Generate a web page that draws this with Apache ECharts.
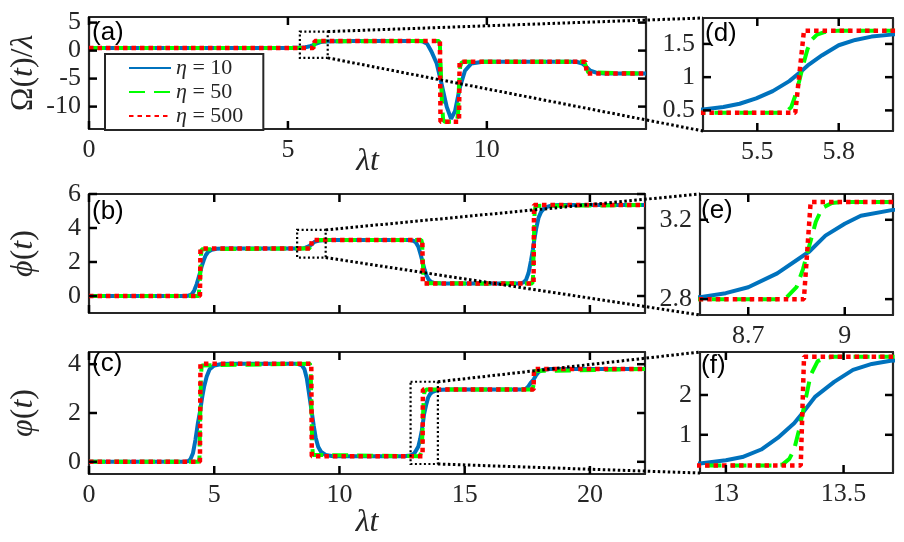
<!DOCTYPE html>
<html>
<head>
<meta charset="utf-8">
<script src="https://cdn.jsdelivr.net/npm/echarts@6/dist/echarts.min.js"></script>
<style>
html, body { margin: 0; background: #fff; }
#main { width: 904px; height: 542px; }
</style>
</head>
<body>
<div id="main"></div>
<script>
// curve values, [lambda*t, value]
var omega10 = [[0,0.47],[4.9,0.48],[5.1,0.49],[5.22,0.5],[5.30,0.515],[5.375,0.55],[5.435,0.60],[5.496,0.68],[5.557,0.79],[5.618,0.94],[5.654,1.06],[5.69,1.19],[5.739,1.33],[5.80,1.48],[5.861,1.56],[5.921,1.61],[5.994,1.64],[6.1,1.67],[6.3,1.69],[6.6,1.70],
  [8.3,1.70],[8.4,1.6],[8.5,1.2],[8.61,-0.2],[8.74,-2.3],[8.86,-5.9],[8.99,-10],[9.1,-12.2],[9.2,-10.8],[9.32,-6.6],[9.45,-3.6],[9.61,-2.3],[9.9,-2.0],
  [12.25,-2.0],[12.4,-2.3],[12.5,-2.9],[12.6,-3.6],[12.75,-3.95],[12.95,-4.1],[14,-4.1]];
var omega50 = [[0,0.465],[5.59,0.465],[5.61,0.49],[5.625,0.55],[5.64,0.72],[5.655,0.95],[5.67,1.2],[5.685,1.42],[5.70,1.56],[5.72,1.64],[5.75,1.68],[5.8,1.70],
  [8.8,1.70],[8.82,1.0],[8.84,-3],[8.87,-9],[8.9,-12.3],[8.94,-12.7],[9.25,-12.7],[9.28,-11],[9.3,-6],[9.33,-2.8],[9.37,-2.1],[9.45,-2.0],
  [12.45,-2.0],[12.5,-3.0],[12.55,-3.9],[12.6,-4.1],[14,-4.1]];
var omega500 = [[0,0.465],[5.64,0.465],[5.672,1.70],[8.82,1.70],[8.835,-12.7],[9.3,-12.7],[9.315,-2.0],[12.48,-2.0],[12.51,-4.1],[14,-4.1]];

var phi10 = [[0,0],[3.9,0],[4.0,0.03],[4.1,0.1],[4.2,0.32],[4.3,0.7],[4.38,1.1],[4.44,1.4],[4.5,1.75],[4.58,2.1],[4.66,2.4],[4.76,2.6],[4.9,2.72],[5.1,2.78],[5.4,2.8],
  [8.3,2.8],[8.55,2.81],[8.63,2.83],[8.7,2.86],[8.79,2.93],[8.89,3.04],[8.94,3.12],[9.0,3.18],[9.05,3.22],[9.15,3.25],[9.35,3.28],[9.6,3.29],
  [12.8,3.29],[12.95,3.25],[13.05,3.15],[13.15,2.9],[13.25,2.4],[13.32,2.0],[13.4,1.55],[13.48,1.2],[13.56,0.97],[13.66,0.83],[13.8,0.76],[14.1,0.73],
  [17.2,0.73],[17.35,0.8],[17.45,0.95],[17.55,1.35],[17.65,2.1],[17.72,2.7],[17.78,3.3],[17.86,4.0],[17.95,4.6],[18.05,4.95],[18.2,5.2],[18.45,5.32],[18.8,5.35],[22.2,5.35]];
var phi50 = [[0,0],[4.38,0],[4.41,0.1],[4.44,1.2],[4.47,2.4],[4.5,2.75],[4.55,2.8],
  [8.79,2.8],[8.82,2.81],[8.85,2.86],[8.87,2.95],[8.89,3.07],[8.91,3.19],[8.93,3.26],[8.96,3.285],[9.0,3.29],
  [13.27,3.29],[13.3,3.1],[13.33,2.0],[13.36,0.9],[13.4,0.75],[13.45,0.73],
  [17.7,0.73],[17.73,1.1],[17.76,3.0],[17.79,4.9],[17.83,5.3],[17.9,5.35],[22.2,5.35]];
var phi500 = [[0,0],[4.43,0],[4.45,2.8],[8.873,2.8],[8.894,3.29],[13.31,3.29],[13.33,0.73],[17.75,0.73],[17.77,5.35],[22.2,5.35]];

var varphi10 = [[0,0],[3.8,0],[3.95,0.02],[4.05,0.1],[4.15,0.35],[4.25,0.9],[4.35,1.6],[4.44,2.1],[4.52,2.65],[4.6,3.1],[4.7,3.5],[4.82,3.8],[5.0,3.95],[5.3,4.01],[5.6,4.02],
  [8.3,4.02],[8.5,3.95],[8.6,3.8],[8.7,3.4],[8.8,2.7],[8.885,2.1],[8.97,1.5],[9.05,1.0],[9.15,0.62],[9.27,0.4],[9.45,0.28],[9.75,0.23],
  [12.6,0.23],[12.8,0.26],[12.89,0.28],[13.0,0.36],[13.07,0.44],[13.15,0.63],[13.22,0.92],[13.29,1.29],[13.33,1.58],[13.38,1.96],[13.46,2.33],[13.54,2.63],[13.62,2.78],[13.7,2.86],[13.85,2.92],[14.1,2.95],[14.4,2.96],
  [17.3,2.96],[17.45,3.0],[17.55,3.1],[17.65,3.25],[17.76,3.38],[17.85,3.55],[17.95,3.68],[18.1,3.76],[18.4,3.8],[22.2,3.8]];
var varphi50 = [[0,0],[4.38,0],[4.41,0.15],[4.44,1.8],[4.47,3.5],[4.5,3.95],[4.55,4.02],
  [8.82,4.02],[8.85,3.85],[8.88,2.4],[8.91,0.7],[8.94,0.28],[9.0,0.23],
  [13.2,0.23],[13.24,0.25],[13.27,0.4],[13.29,0.63],[13.31,1.1],[13.335,1.79],[13.36,2.5],[13.39,2.85],[13.42,2.93],[13.46,2.96],
  [17.7,2.96],[17.74,3.1],[17.77,3.45],[17.8,3.72],[17.85,3.8],[22.2,3.8]];
var varphi500 = [[0,0],[4.43,0],[4.45,4.02],[8.875,4.02],[8.895,0.23],[13.318,0.23],[13.332,2.96],[17.75,2.96],[17.77,3.8],[22.2,3.8]];

var seriesNames = ['η = 10', 'η = 50', 'η = 500'];

// axis ranges and ticks of the six panels
var xRanges = [[0,14],[0,22.2],[0,22.2],[5.3,6.0],[8.55,9.15],[12.89,13.71]];
var yRanges = [[-14,6],[-1,6],[-0.5,4.5],[0.19,1.89],[2.72,3.33],[0.04,3.08]];
var xTicks = [[0,5,10],[0,5,10,15,20],[0,5,10,15,20],[5.5,5.8],[8.7,9],[13,13.5]];
var yTicks = [[-10,-5,0,5],[0,2,4,6],[0,2,4],[0.5,1,1.5],[2.8,3.2],[1,2]];
var panelLabels = ['(a)','(b)','(c)','(d)','(e)','(f)'];

// dotted windows in (a),(b),(c) that are blown up in (d),(e),(f)
var zoomWindows = [
  {panel: 0, zoom: 3, x: [5.3, 6.0], y: [-1.3, 3.4]},
  {panel: 1, zoom: 4, x: [8.31, 9.45], y: [2.26, 3.89]},
  {panel: 2, zoom: 5, x: [12.84, 13.93], y: [-0.09, 3.28]}
];

var curves = [
  [omega10, omega50, omega500],
  [phi10, phi50, phi500],
  [varphi10, varphi50, varphi500],
  [omega10, omega50, omega500],
  [phi10, phi50, phi500],
  [varphi10, varphi50, varphi500]
];

var grids = [
  {left: 87, top: 17, width: 559, height: 112},
  {left: 87, top: 194, width: 558, height: 119},
  {left: 87, top: 352, width: 558, height: 122},
  {left: 703, top: 18, width: 190, height: 113},
  {left: 700, top: 194, width: 193, height: 121},
  {left: 700, top: 352, width: 193, height: 121}
];
var labelPos = [[92,20],[92,199],[92,351],[705,21],[701,198],[701,353]];
var xNameGap = [17, 0, 33];

var ink = '#262626';
var serif = 'Liberation Serif';
var lineStyles = [
  {color: '#0072BD', width: 4, type: 'solid'},
  {color: '#00FF00', width: 4, type: [16, 9], cap: 'butt'},
  {color: '#FF0000', width: 4.5, type: [4.5, 4], cap: 'butt'}
];
var nameRich = {
  r: {fontFamily: serif, fontSize: 32, color: ink},
  i: {fontFamily: serif, fontSize: 32, fontStyle: 'italic', color: ink}
};
var yNames = ['{r|Ω(}{i|t}{r|)/}{i|λ}', '{i|ϕ}{r|(}{i|t}{r|)}', '{i|φ}{r|(}{i|t}{r|)}'];

var myChart = echarts.init(document.getElementById('main'));

var frameLine = {show: true, onZero: false, lineStyle: {color: ink, width: 2.2}};

var xAxes = [], yAxes = [], series = [];
grids.forEach(function (g, i) {
  ['bottom', 'top'].forEach(function (pos) {
    var main = pos === 'bottom';
    xAxes.push({
      type: 'value', gridIndex: i, position: pos,
      min: xRanges[i][0], max: xRanges[i][1],
      axisLine: frameLine, splitLine: {show: false}, axisTick: {show: false},
      axisLabel: {show: main && i !== 1, customValues: xTicks[i], margin: 8, fontSize: 26, fontFamily: serif, color: ink},
      name: main && (i === 0 || i === 2) ? '{i|λt}' : '',
      nameLocation: 'middle', nameGap: xNameGap[i] || 0, nameMoveOverlap: false,
      nameTextStyle: {rich: nameRich}
    });
  });
  ['left', 'right'].forEach(function (pos) {
    var main = pos === 'left';
    yAxes.push({
      type: 'value', gridIndex: i, position: pos,
      min: yRanges[i][0], max: yRanges[i][1],
      axisLine: frameLine, splitLine: {show: false}, axisTick: {show: false},
      axisLabel: {show: main, customValues: yTicks[i], margin: 8, fontSize: 26, fontFamily: serif, color: ink},
      name: main && i < 3 ? yNames[i] : '',
      nameLocation: 'middle', nameGap: 49, nameRotate: 90, nameMoveOverlap: false,
      nameTextStyle: {rich: nameRich}
    });
  });
  curves[i].forEach(function (d, k) {
    series.push({
      type: 'line', name: seriesNames[k],
      xAxisIndex: 2 * i, yAxisIndex: 2 * i,
      data: d, symbol: 'none', showSymbol: false,
      lineStyle: lineStyles[k], clip: true, silent: true,
      emphasis: {disabled: true}
    });
  });
});

var option = {
  animation: false,
  textStyle: {fontFamily: serif},
  grid: grids,
  xAxis: xAxes,
  yAxis: yAxes,
  legend: {
    data: seriesNames,
    orient: 'vertical', left: 105, top: 54,
    itemWidth: 42, itemHeight: 14, itemGap: 0,
    padding: [2, 20, 2, 23],
    borderColor: ink, borderWidth: 2, backgroundColor: '#fff',
    selectedMode: false,
    itemStyle: {opacity: 0},
    formatter: function (n) { return n.replace('η', '{i|η}'); },
    textStyle: {
      fontSize: 22, fontFamily: serif, color: ink, lineHeight: 24,
      rich: {i: {fontSize: 22, fontFamily: serif, fontStyle: 'italic', color: ink, lineHeight: 24}}
    }
  },
  series: series
};
myChart.setOption(option);

// overlay: inward ticks on all four sides, panel letters, zoom windows and leader lines
var overlay = [];
var tickLen = 8, tickW = 2.5;
grids.forEach(function (g, i) {
  var f = {seriesIndex: 3 * i};
  xTicks[i].forEach(function (v) {
    var b = myChart.convertToPixel(f, [v, yRanges[i][0]]);
    var t = myChart.convertToPixel(f, [v, yRanges[i][1]]);
    overlay.push({type: 'rect', z: 100, silent: true,
      shape: {x: b[0] - tickW / 2, y: b[1] - tickLen, width: tickW, height: tickLen}, style: {fill: '#000'}});
    overlay.push({type: 'rect', z: 100, silent: true,
      shape: {x: t[0] - tickW / 2, y: t[1], width: tickW, height: tickLen}, style: {fill: '#000'}});
  });
  yTicks[i].forEach(function (v) {
    var l = myChart.convertToPixel(f, [xRanges[i][0], v]);
    var r = myChart.convertToPixel(f, [xRanges[i][1], v]);
    overlay.push({type: 'rect', z: 100, silent: true,
      shape: {x: l[0], y: l[1] - tickW / 2, width: tickLen, height: tickW}, style: {fill: '#000'}});
    overlay.push({type: 'rect', z: 100, silent: true,
      shape: {x: r[0] - tickLen, y: r[1] - tickW / 2, width: tickLen, height: tickW}, style: {fill: '#000'}});
  });
});
panelLabels.forEach(function (t, i) {
  overlay.push({
    type: 'text', x: labelPos[i][0], y: labelPos[i][1], z: 50,
    style: {text: t, fontSize: 26, fontFamily: 'Liberation Sans', fill: '#000', verticalAlign: 'top'}
  });
});
var dotted = {stroke: '#000', lineWidth: 3, lineDash: [2.5, 2.5], fill: null};
zoomWindows.forEach(function (w) {
  var f = {seriesIndex: 3 * w.panel};
  var tl = myChart.convertToPixel(f, [w.x[0], w.y[1]]);
  var br = myChart.convertToPixel(f, [w.x[1], w.y[0]]);
  var zf = {seriesIndex: 3 * w.zoom};
  var zTop = myChart.convertToPixel(zf, [xRanges[w.zoom][0], yRanges[w.zoom][1]]);
  var zBot = myChart.convertToPixel(zf, [xRanges[w.zoom][0], yRanges[w.zoom][0]]);
  overlay.push({
    type: 'rect', z: 60,
    shape: {x: tl[0], y: tl[1], width: br[0] - tl[0], height: br[1] - tl[1]},
    style: {stroke: '#000', lineWidth: 2.2, lineDash: [2, 2.5], fill: null}
  });
  overlay.push({type: 'line', z: 60, shape: {x1: br[0], y1: tl[1], x2: zTop[0], y2: zTop[1]}, style: dotted});
  overlay.push({type: 'line', z: 60, shape: {x1: br[0], y1: br[1], x2: zBot[0], y2: zBot[1]}, style: dotted});
});
myChart.setOption({graphic: overlay});
</script>
</body>
</html>
